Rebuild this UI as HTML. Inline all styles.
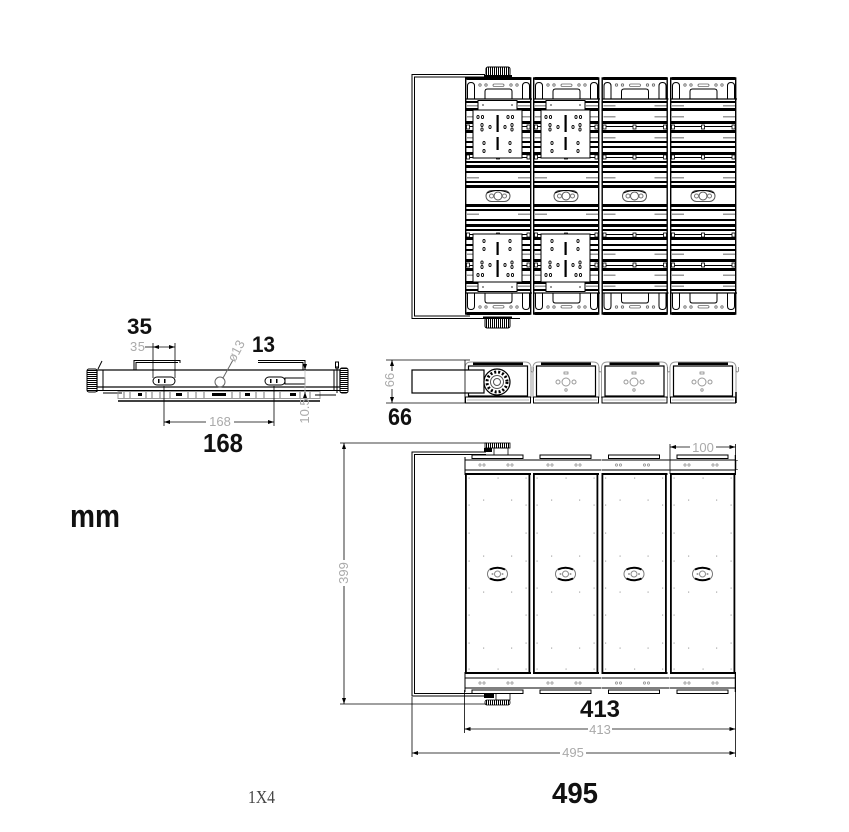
<!DOCTYPE html>
<html><head><meta charset="utf-8">
<style>
html,body{margin:0;padding:0;background:#fff;}
svg{display:block;}
.b{font-family:"Liberation Sans",sans-serif;font-weight:bold;fill:#111;}
.g{font-family:"Liberation Sans",sans-serif;fill:#aaaaaa;font-size:13px;}
.s{font-family:"Liberation Serif",serif;fill:#444;}
</style></head><body>
<svg width="849" height="832" viewBox="0 0 849 832" xmlns="http://www.w3.org/2000/svg">
<defs>
<pattern id="vh" width="2" height="4" patternUnits="userSpaceOnUse"><rect width="1" height="4" fill="#000"/></pattern>
<pattern id="hh" width="4" height="2" patternUnits="userSpaceOnUse"><rect width="4" height="1" fill="#000"/></pattern>
<marker id="ar" viewBox="0 0 6 4" refX="6" refY="2" markerWidth="6" markerHeight="4" markerUnits="userSpaceOnUse" orient="auto-start-reverse"><path d="M0,0 L6,2 L0,4 z" fill="#000"/></marker>

<!-- top view: half module -->
<g id="th">
 <rect x="1" y="77" width="65" height="3" rx="1.5" fill="#000"/>
 <path d="M2.5,99V86Q2.5,82.5 6,82.5Q9.5,82.5 9.5,86V99M57.5,99V86Q57.5,82.5 61,82.5Q64.5,82.5 64.5,86V99M20,99V91.5Q20,89 22.5,89H44.5Q47,89 47,91.5V99" fill="none" stroke="#000" stroke-width="1"/>
 <g fill="none" stroke="#666" stroke-width=".8">
  <circle cx="15" cy="85" r="1.2"/><circle cx="21" cy="85" r="1.2"/>
  <rect x="28" y="84" width="11" height="2.4" rx="1.2"/>
  <circle cx="46" cy="85" r="1.2"/><circle cx="52" cy="85" r="1.2"/>
 </g>
 <rect x="0" y="98.4" width="67" height="1.2" fill="#000"/>
 <g fill="#000">
  <rect x="1" y="101" width="65" height="2"/>
  <rect x="1" y="108" width="65" height="3"/>
  <rect x="1" y="121" width="65" height="3"/>
  <rect x="1" y="126" width="65" height="1"/>
  <rect x="1" y="130" width="65" height="3"/>
  <rect x="1" y="141" width="65" height="2"/>
  <rect x="1" y="146" width="65" height="2"/>
  <rect x="1" y="152" width="65" height="3"/>
  <rect x="1" y="157" width="65" height="1"/>
  <rect x="1" y="161" width="65" height="2"/>
  <rect x="1" y="165" width="65" height="3"/>
  <rect x="1" y="171" width="65" height="2"/>
  <rect x="1" y="181" width="65" height="2"/>
  <rect x="1" y="185" width="65" height="3"/>
 </g>
 <g fill="#999">
  <rect x="2" y="105" width="12" height="1.5"/><rect x="53" y="105" width="12" height="1.5"/>
  <rect x="2" y="116" width="12" height="1.5"/><rect x="53" y="116" width="12" height="1.5"/>
  <rect x="2" y="137" width="12" height="1.5"/><rect x="53" y="137" width="12" height="1.5"/>
  <rect x="2" y="177" width="12" height="1.5"/><rect x="53" y="177" width="12" height="1.5"/>
 </g>
 <g fill="#fff" stroke="#000" stroke-width=".8">
  <rect x="1.5" y="125" width="3" height="4"/><rect x="31.5" y="125" width="3" height="4"/><rect x="62" y="125" width="3" height="4"/>
  <rect x="1.5" y="155" width="3" height="4"/><rect x="31.5" y="155" width="3" height="4"/><rect x="62" y="155" width="3" height="4"/>
 </g>
</g>

<!-- top view plate -->
<g id="pl">
 <rect x="13" y="100.5" width="39" height="9.5" fill="#fff" stroke="#000"/>
 <circle cx="18" cy="105" r="1" fill="#777"/><circle cx="47" cy="105" r="1" fill="#777"/>
 <rect x="8" y="110" width="49" height="48" fill="#fff" stroke="#000"/>
 <g fill="none" stroke="#000" stroke-width=".9">
  <ellipse cx="13" cy="117" rx="1.1" ry="1.6"/><ellipse cx="17.5" cy="117" rx="1.1" ry="1.6"/>
  <ellipse cx="43" cy="117" rx="1.1" ry="1.6"/><ellipse cx="47.5" cy="117" rx="1.1" ry="1.6"/>
  <ellipse cx="17" cy="125" rx="1.1" ry="1.6"/><ellipse cx="17" cy="129.5" rx="1.1" ry="1.6"/>
  <ellipse cx="25" cy="127" rx="1.1" ry="1.6"/><ellipse cx="40" cy="127" rx="1.1" ry="1.6"/>
  <ellipse cx="47" cy="125" rx="1.1" ry="1.6"/><ellipse cx="47" cy="129.5" rx="1.1" ry="1.6"/>
  <ellipse cx="19" cy="143" rx="1.1" ry="1.6"/><ellipse cx="45" cy="143" rx="1.1" ry="1.6"/>
  <ellipse cx="19" cy="151" rx="1.1" ry="1.6"/><ellipse cx="45" cy="151" rx="1.1" ry="1.6"/>
 </g>
 <rect x="31.5" y="115" width="2.2" height="17" fill="#000"/>
 <rect x="31.5" y="137" width="2.2" height="13" fill="#000"/>
</g>

<!-- top view lens -->
<g id="tl">
 <rect x="1" y="189" width="65" height="14" fill="#fff"/>
 <rect x="21" y="190.5" width="24" height="11" rx="5.5" fill="none" stroke="#555" stroke-width="1"/>
 <circle cx="33" cy="196" r="4" fill="none" stroke="#555"/>
 <circle cx="26.5" cy="196" r="2" fill="none" stroke="#777"/>
 <circle cx="39.5" cy="196" r="2" fill="none" stroke="#777"/>
 <path d="M22,193 Q33,188 44,193" fill="none" stroke="#000" stroke-width="1"/>
</g>

<!-- front view module -->
<g id="fm">
 <path d="M0,398V368Q0,362 6,362H60Q66,362 66,368V398" fill="none" stroke="#999" stroke-width="1"/>
 <rect x="8" y="362.5" width="50" height="2.5" fill="#000"/>
 <rect x="3.5" y="366" width="59" height="30" fill="none" stroke="#000" stroke-width="1.2"/>
 <rect x="0.5" y="397" width="65" height="6" fill="#fff" stroke="#000" stroke-width="1"/>
 <line x1="2" y1="400" x2="64" y2="400" stroke="#999" stroke-width=".8"/>
 <path d="M66,367 V371 Q67.2,373 68.5,371 V367" fill="none" stroke="#777" stroke-width=".8"/>
</g>
<g id="fc">
 <circle cx="-8" cy="382" r="2" fill="none" stroke="#999"/>
 <circle cx="0" cy="382" r="4" fill="none" stroke="#999"/>
 <circle cx="8" cy="382" r="2" fill="none" stroke="#999"/>
 <rect x="-2" y="372" width="4" height="2" fill="none" stroke="#777" stroke-width=".7"/>
 <circle cx="0" cy="390" r="1.2" fill="none" stroke="#999"/>
</g>

<!-- bottom view module -->
<g id="bm">
 <rect x="7" y="455" width="51" height="3.5" fill="#fff" stroke="#000"/>
 <line x1="0" y1="460" x2="68" y2="460" stroke="#000"/>
 <line x1="0" y1="470" x2="68" y2="470" stroke="#000"/>
 <g fill="none" stroke="#888" stroke-width=".7">
  <circle cx="15" cy="465" r="1.1"/><circle cx="19" cy="465" r="1.1"/><circle cx="43" cy="465" r="1.1"/><circle cx="47" cy="465" r="1.1"/>
  <circle cx="15" cy="683" r="1.1"/><circle cx="19" cy="683" r="1.1"/><circle cx="43" cy="683" r="1.1"/><circle cx="47" cy="683" r="1.1"/>
 </g>
 <rect x="0" y="473" width="66" height="2" fill="#000"/>
 <rect x="0" y="474" width="1.8" height="200" fill="#000"/>
 <rect x="63.5" y="474" width="1.8" height="200" fill="#000"/>
 <rect x="0" y="672" width="66" height="2" fill="#000"/>
 <line x1="0" y1="678" x2="68" y2="678" stroke="#000"/>
 <line x1="0" y1="688" x2="68" y2="688" stroke="#000"/>
 <rect x="7" y="690" width="51" height="3.5" fill="#fff" stroke="#000"/>
 <g fill="#aaa">
  <rect x="3.5" y="477.5" width="1.2" height="1.2"/><rect x="32.5" y="477.5" width="1.2" height="1.2"/><rect x="60.5" y="477.5" width="1.2" height="1.2"/>
  <rect x="3.5" y="504.5" width="1.2" height="1.2"/><rect x="60.5" y="504.5" width="1.2" height="1.2"/>
  <rect x="3.5" y="532.5" width="1.2" height="1.2"/><rect x="60.5" y="532.5" width="1.2" height="1.2"/>
  <rect x="3.5" y="560.5" width="1.2" height="1.2"/><rect x="60.5" y="560.5" width="1.2" height="1.2"/>
  <rect x="3.5" y="587.5" width="1.2" height="1.2"/><rect x="60.5" y="587.5" width="1.2" height="1.2"/>
  <rect x="3.5" y="614.5" width="1.2" height="1.2"/><rect x="60.5" y="614.5" width="1.2" height="1.2"/>
  <rect x="3.5" y="642.5" width="1.2" height="1.2"/><rect x="60.5" y="642.5" width="1.2" height="1.2"/>
  <rect x="3.5" y="668.5" width="1.2" height="1.2"/><rect x="32.5" y="668.5" width="1.2" height="1.2"/><rect x="60.5" y="668.5" width="1.2" height="1.2"/>
  <rect x="18" y="499.5" width="1.2" height="1.2"/><rect x="46" y="499.5" width="1.2" height="1.2"/>
  <rect x="18" y="555.5" width="1.2" height="1.2"/><rect x="46" y="555.5" width="1.2" height="1.2"/>
  <rect x="18" y="591.5" width="1.2" height="1.2"/><rect x="46" y="591.5" width="1.2" height="1.2"/>
  <rect x="18" y="647.5" width="1.2" height="1.2"/><rect x="46" y="647.5" width="1.2" height="1.2"/>
 </g>
 <rect x="22.5" y="568" width="20" height="12" rx="6" fill="#fff" stroke="#777" stroke-width="1"/>
 <path d="M25,569.5 Q32.5,566 40,569.5" fill="none" stroke="#000" stroke-width="2"/>
 <path d="M25,578.5 Q32.5,582 40,578.5" fill="none" stroke="#000" stroke-width="2"/>
 <circle cx="32.5" cy="574" r="3" fill="none" stroke="#888"/>
 <circle cx="27.5" cy="574" r="1" fill="#999"/><circle cx="37.5" cy="574" r="1" fill="#999"/>
</g>
</defs>

<!-- ================= TOP VIEW ================= -->
<g fill="none" stroke="#000" stroke-width="1">
 <path d="M485,74.5 H412 V318.5 H520"/>
 <path d="M485,77 H414.5 V316 H470"/>
</g>
<rect x="486" y="67" width="24" height="9" rx="2" fill="url(#vh)" stroke="#000" stroke-width="1"/>
<rect x="484" y="75" width="28" height="2.5" fill="#000"/>
<rect x="485" y="318" width="25" height="10" rx="2" fill="url(#vh)" stroke="#000" stroke-width="1"/>
<rect x="483" y="316.5" width="29" height="2.5" fill="#000"/>

<g transform="translate(465,0)">
 <use href="#th"/><use href="#th" transform="matrix(1,0,0,-1,0,392)"/>
 <use href="#pl"/><use href="#pl" transform="matrix(1,0,0,-1,0,392)"/>
 <use href="#tl"/>
 <rect x=".7" y="78" width="65" height="236" fill="none" stroke="#000" stroke-width="1.4"/>
</g>
<g transform="translate(533,0)">
 <use href="#th"/><use href="#th" transform="matrix(1,0,0,-1,0,392)"/>
 <use href="#pl"/><use href="#pl" transform="matrix(1,0,0,-1,0,392)"/>
 <use href="#tl"/>
 <rect x=".7" y="78" width="65" height="236" fill="none" stroke="#000" stroke-width="1.4"/>
</g>
<g transform="translate(601.5,0)">
 <use href="#th"/><use href="#th" transform="matrix(1,0,0,-1,0,392)"/>
 <use href="#tl"/>
 <rect x=".7" y="78" width="65" height="236" fill="none" stroke="#000" stroke-width="1.4"/>
</g>
<g transform="translate(670,0)">
 <use href="#th"/><use href="#th" transform="matrix(1,0,0,-1,0,392)"/>
 <use href="#tl"/>
 <rect x=".7" y="78" width="65" height="236" fill="none" stroke="#000" stroke-width="1.4"/>
</g>

<!-- ================= LEFT SIDE VIEW ================= -->
<g stroke="#000" fill="none" stroke-width="1">
 <rect x="87" y="369" width="10" height="23" rx="2" fill="url(#hh)"/>
 <rect x="340" y="368" width="8" height="25" rx="2" fill="url(#hh)"/>
 <rect x="97" y="370" width="243" height="17" fill="#fff" stroke-width="1.2"/>
 <line x1="103" y1="370" x2="103" y2="390"/>
 <line x1="334" y1="370" x2="334" y2="390"/>
 <line x1="337" y1="366" x2="337" y2="393"/>
 <line x1="97" y1="390.5" x2="340" y2="390.5"/>
 <line x1="97" y1="387" x2="97" y2="392"/>
 <path d="M98,369 L102,361"/>
 <rect x="335.5" y="362" width="3" height="6"/>
 <path d="M134,370 V360.5 H180 V363"/>
 <path d="M136,370 V362.5 H178"/>
 <path d="M258,360.5 H305 V370"/>
 <path d="M258,362.5 H303 V370"/>
 <rect x="153" y="377" width="22" height="8" rx="4"/>
 <rect x="265" y="377" width="20" height="8" rx="4"/>
 <rect x="285" y="378" width="20" height="6"/>
 <circle cx="220" cy="382" r="5" stroke="#666"/>
 <line x1="223" y1="378" x2="233" y2="360" stroke="#666"/>
 <line x1="103" y1="393" x2="122" y2="393"/>
 <rect x="118" y="391.5" width="202" height="7" stroke="#999"/>
 <line x1="118" y1="401" x2="320" y2="401" stroke-width="1.6"/>
 <line x1="315" y1="395" x2="336" y2="395"/>
</g>
<g fill="#000">
 <rect x="158" y="379" width="1.5" height="4"/><rect x="164" y="379" width="1.5" height="4"/>
 <rect x="270" y="379" width="1.5" height="4"/><rect x="276" y="379" width="1.5" height="4"/>
 <rect x="212" y="393" width="14" height="3"/>
 <rect x="138" y="393" width="4" height="3"/><rect x="176" y="393" width="6" height="3"/>
 <rect x="245" y="393" width="5" height="3"/><rect x="290" y="393" width="6" height="3"/>
</g>
<g stroke="#555" stroke-width=".8">
 <line x1="124" y1="392" x2="124" y2="398"/><line x1="130" y1="392" x2="130" y2="398"/>
 <line x1="146" y1="392" x2="146" y2="398"/><line x1="152" y1="392" x2="152" y2="398"/>
 <line x1="160" y1="392" x2="160" y2="398"/><line x1="170" y1="392" x2="170" y2="398"/>
 <line x1="188" y1="392" x2="188" y2="398"/><line x1="196" y1="392" x2="196" y2="398"/>
 <line x1="204" y1="392" x2="204" y2="398"/><line x1="232" y1="392" x2="232" y2="398"/>
 <line x1="240" y1="392" x2="240" y2="398"/><line x1="256" y1="392" x2="256" y2="398"/>
 <line x1="264" y1="392" x2="264" y2="398"/><line x1="280" y1="392" x2="280" y2="398"/>
 <line x1="300" y1="392" x2="300" y2="398"/><line x1="310" y1="392" x2="310" y2="398"/>
</g>
<!-- left view dims -->
<g stroke="#000" stroke-width=".8" fill="none">
 <line x1="153" y1="343" x2="153" y2="378"/>
 <line x1="175" y1="343" x2="175" y2="378"/>
 <line x1="145" y1="347" x2="153" y2="347"/>
 <line x1="153" y1="347" x2="175" y2="347" marker-start="url(#ar)" marker-end="url(#ar)"/>
 <line x1="164" y1="386" x2="164" y2="426"/>
 <line x1="274" y1="386" x2="274" y2="426"/>
 <line x1="164" y1="422" x2="206" y2="422" marker-start="url(#ar)"/>
 <line x1="234" y1="422" x2="274" y2="422" marker-end="url(#ar)"/>
 <line x1="305" y1="364" x2="305" y2="370" marker-end="url(#ar)"/>
 <line x1="305" y1="398" x2="305" y2="392" marker-end="url(#ar)"/>
 <line x1="305" y1="370" x2="305" y2="392" stroke="#bbb"/>
</g>
<text class="g" x="130" y="351" textLength="15">35</text>
<text class="g" x="220" y="426" text-anchor="middle">168</text>
<text class="g" transform="translate(309,411) rotate(-90)" text-anchor="middle">10.5</text>
<text class="g" transform="translate(240,353) rotate(-62)" text-anchor="middle">ø13</text>

<text class="b" x="127" y="334" font-size="22" textLength="25" lengthAdjust="spacingAndGlyphs">35</text>
<text class="b" x="252" y="352" font-size="22" textLength="23" lengthAdjust="spacingAndGlyphs">13</text>
<text class="b" x="203" y="452" font-size="26" textLength="40" lengthAdjust="spacingAndGlyphs">168</text>

<!-- ================= FRONT VIEW (middle) ================= -->
<g stroke="#000" stroke-width=".8" fill="none">
 <line x1="386" y1="360" x2="470" y2="360"/>
 <line x1="386" y1="403" x2="466" y2="403"/>
 <line x1="392" y1="360" x2="392" y2="403" marker-start="url(#ar)" marker-end="url(#ar)"/>
</g>
<rect x="386" y="371" width="8" height="18" fill="#fff"/>
<text class="g" transform="translate(394,380) rotate(-90)" text-anchor="middle" font-size="12">66</text>
<use href="#fm" transform="translate(465,0)"/>
<use href="#fm" transform="translate(533,0)"/>
<use href="#fm" transform="translate(601.5,0)"/>
<use href="#fm" transform="translate(670,0)"/>
<use href="#fc" transform="translate(566,0)"/>
<use href="#fc" transform="translate(634,0)"/>
<use href="#fc" transform="translate(702,0)"/>
<line x1="736" y1="392" x2="736" y2="403" stroke="#000" stroke-width="1.5"/>
<rect x="412" y="370" width="72" height="23" fill="#fff" stroke="#000" stroke-width="1.2"/>
<line x1="465" y1="360" x2="465" y2="403" stroke="#000" stroke-width=".8"/>
<circle cx="497" cy="382" r="13" fill="#fff" stroke="#000" stroke-width="1.2"/>
<circle cx="497" cy="382" r="10" fill="none" stroke="#000" stroke-width="3" stroke-dasharray="2 2"/>
<circle cx="497" cy="382" r="6.5" fill="#fff" stroke="#555"/>
<circle cx="497" cy="382" r="3.5" fill="none" stroke="#555"/>
<text class="b" x="388" y="425" font-size="24" textLength="24" lengthAdjust="spacingAndGlyphs">66</text>

<!-- ================= BOTTOM VIEW ================= -->
<g stroke="#000" stroke-width=".8" fill="none">
 <line x1="340" y1="443" x2="487" y2="443"/>
 <line x1="340" y1="704" x2="487" y2="704"/>
 <line x1="344" y1="443" x2="344" y2="560" marker-start="url(#ar)"/>
 <line x1="344" y1="586" x2="344" y2="704" marker-end="url(#ar)"/>
</g>
<text class="g" transform="translate(348,573) rotate(-90)" text-anchor="middle">399</text>
<g fill="none" stroke="#000" stroke-width="1">
 <path d="M486,452 H412 V696 H486"/>
 <path d="M486,454.5 H414.5 V693.5 H486"/>
</g>
<rect x="485" y="443" width="25" height="5" fill="url(#vh)" stroke="#000" stroke-width=".8"/>
<rect x="484" y="448" width="8" height="4" fill="#000"/>
<rect x="494" y="448" width="14" height="7" fill="none" stroke="#000" stroke-width=".8"/>
<rect x="484" y="694" width="10" height="4" fill="#000"/>
<rect x="496" y="692" width="14" height="8" fill="none" stroke="#000" stroke-width=".8"/>
<rect x="485" y="700" width="25" height="5" rx="2" fill="url(#vh)" stroke="#000" stroke-width=".8"/>
<use href="#bm" transform="translate(465,0)"/>
<use href="#bm" transform="translate(533,0)"/>
<use href="#bm" transform="translate(601.5,0)"/>
<use href="#bm" transform="translate(670,0)"/>
<line x1="465" y1="457" x2="465" y2="475" stroke="#000"/>
<line x1="465" y1="672" x2="465" y2="692" stroke="#000"/>
<line x1="735.5" y1="455" x2="735.5" y2="475" stroke="#000" stroke-width="1.5"/>
<line x1="735.5" y1="672" x2="735.5" y2="692" stroke="#000" stroke-width="1.5"/>
<rect x="736" y="440" width="20" height="20" fill="#fff"/>
<rect x="736" y="470" width="20" height="230" fill="#fff"/>
<!-- 100 dim -->
<g stroke="#000" stroke-width=".8" fill="none">
 <line x1="670" y1="444" x2="670" y2="474"/>
 <line x1="735.5" y1="444" x2="735.5" y2="458"/>
 <line x1="670" y1="447" x2="690" y2="447" marker-start="url(#ar)"/>
 <line x1="716" y1="447" x2="735.5" y2="447" marker-end="url(#ar)"/>
</g>
<text class="g" x="703" y="452" text-anchor="middle">100</text>
<!-- 413 / 495 dims -->
<g stroke="#000" stroke-width=".8" fill="none">
 <line x1="464.5" y1="690" x2="464.5" y2="733"/>
 <line x1="735.5" y1="690" x2="735.5" y2="757"/>
 <line x1="412" y1="697" x2="412" y2="757"/>
 <line x1="464.5" y1="729" x2="588" y2="729" marker-start="url(#ar)"/>
 <line x1="612" y1="729" x2="735.5" y2="729" marker-end="url(#ar)"/>
 <line x1="412" y1="753" x2="560" y2="753" marker-start="url(#ar)"/>
 <line x1="586" y1="753" x2="735.5" y2="753" marker-end="url(#ar)"/>
</g>
<text class="g" x="600" y="734" text-anchor="middle">413</text>
<text class="g" x="573" y="757" text-anchor="middle">495</text>
<text class="b" x="580" y="717" font-size="24" textLength="40" lengthAdjust="spacingAndGlyphs">413</text>
<text class="b" x="552" y="803" font-size="29" textLength="46" lengthAdjust="spacingAndGlyphs">495</text>

<!-- labels -->
<text class="b" x="70" y="527" font-size="32" textLength="50" lengthAdjust="spacingAndGlyphs">mm</text>
<text class="s" x="248" y="803" font-size="18" textLength="27" lengthAdjust="spacingAndGlyphs">1X4</text>
</svg>
</body></html>
